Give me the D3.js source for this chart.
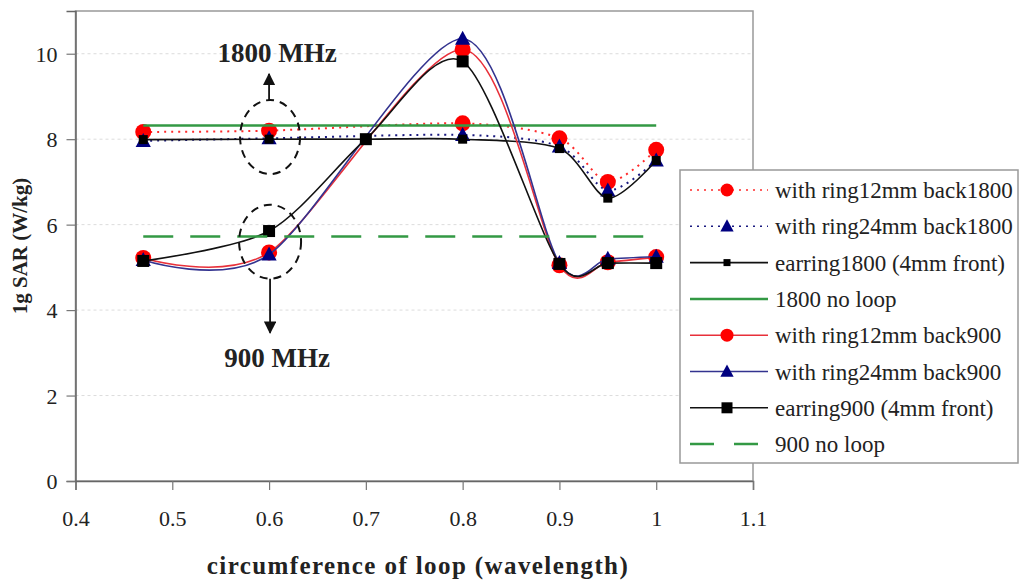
<!DOCTYPE html>
<html lang="en">
<head>
    <meta charset="UTF-8">
    <title>1g SAR vs loop circumference</title>
    <style>
        body {
            margin: 0;
            padding: 0;
            background: #ffffff;
            overflow: hidden;
        }
        svg text {
            fill: #222;
        }
    </style>
    <script src="https://d3js.org/d3.v7.min.js"></script>
</head>
<body>
    <div id="chart"></div>

    <script>
        // Data
        const xRing = [0.47, 0.6, 0.8, 0.9, 0.95, 1.0];
        const xEarring = [0.47, 0.6, 0.7, 0.8, 0.9, 0.95, 1.0];
        const xNoLoop = [0.47, 1.0];

        const ring12_1800 = [8.17, 8.2, 8.37, 8.02, 7.0, 7.75];
        const ring24_1800 = [7.96, 8.02, 8.1, 7.83, 6.8, 7.5];
        const earring1800 = [7.99, 8.0, 8.0, 8.0, 7.78, 6.62, 7.5];
        const noLoop1800 = [8.32, 8.32];
        const ring12_900 = [5.22, 5.35, 10.1, 5.05, 5.12, 5.24];
        const ring24_900 = [5.17, 5.3, 10.35, 5.1, 5.2, 5.25];
        const earring900 = [5.15, 5.85, 8.0, 9.82, 5.08, 5.1, 5.1];
        const noLoop900 = [5.72, 5.72];

        const xTicks = [0.4, 0.5, 0.6, 0.7, 0.8, 0.9, 1, 1.1];
        const yTicks = [0, 2, 4, 6, 8, 10];

        const seriesNames = [
            "with ring12mm back1800",
            "with ring24mm back1800",
            "earring1800 (4mm front)",
            "1800 no loop",
            "with ring12mm back900",
            "with ring24mm back900",
            "earring900 (4mm front)",
            "900 no loop"
        ];

        // annotation marks: [x value, y value]
        const circle1800 = [0.6, 8.05];
        const circle900 = [0.6, 5.6];

        const width = 1023;
        const height = 582;
        const plot = { left: 75.5, right: 753, top: 11, bottom: 481 };
        const serif = "'Liberation Serif', 'Times New Roman', Times, serif";

        const svg = d3.select("#chart")
            .append("svg")
            .attr("width", width)
            .attr("height", height)
            .attr("font-family", serif);

        const x = d3.scaleLinear().domain([0.4, 1.1]).range([plot.left, plot.right]);
        const y = d3.scaleLinear().domain([0, 11]).range([plot.bottom, plot.top]);

        // faint gridlines
        svg.append("g")
            .selectAll("line")
            .data(yTicks.filter(d => d > 0))
            .join("line")
            .attr("x1", plot.left)
            .attr("x2", plot.right)
            .attr("y1", d => y(d))
            .attr("y2", d => y(d))
            .attr("stroke", "#dcdcdc")
            .attr("stroke-dasharray", "3,3");

        // plot border
        svg.append("rect")
            .attr("x", plot.left)
            .attr("y", plot.top)
            .attr("width", plot.right - plot.left)
            .attr("height", plot.bottom - plot.top)
            .attr("fill", "none")
            .attr("stroke", "#999")
            .attr("stroke-width", 1.5);

        // axes
        const xAxis = svg.append("g")
            .attr("transform", `translate(0,${plot.bottom})`)
            .call(d3.axisBottom(x).tickValues(xTicks).tickSize(9).tickPadding(20)
                .tickFormat(d => d === 1 ? "1" : d3.format(".1f")(d)));
        const yAxis = svg.append("g")
            .attr("transform", `translate(${plot.left},0)`)
            .call(d3.axisLeft(y).tickValues(yTicks).tickSize(9).tickPadding(9));

        [xAxis, yAxis].forEach(a => {
            a.attr("font-family", serif).attr("font-size", 22);
            a.select(".domain").attr("stroke", "#666").attr("stroke-width", 1.5);
            a.selectAll(".tick line").attr("stroke", "#777").attr("stroke-width", 1.2);
            a.selectAll(".tick text").attr("fill", "#333");
        });
        yAxis.selectAll(".tick text").attr("dy", "0.35em");

        // axis titles
        svg.append("text")
            .attr("x", 418)
            .attr("y", 574)
            .attr("text-anchor", "middle")
            .style("font-size", "25px")
            .style("font-weight", "bold")
            .style("letter-spacing", "1.4px")
            .text("circumference of loop (wavelength)");

        svg.append("text")
            .attr("transform", `translate(27,246) rotate(-90)`)
            .attr("text-anchor", "middle")
            .style("font-size", "21px")
            .style("font-weight", "bold")
            .text("1g SAR (W/kg)");

        // series definitions
        const series = [
            { xs: xRing, ys: ring12_1800, color: "#ff2a2a", dash: "2,5", width: 2, marker: "circle", mcolor: "#ff0000", size: 8 },
            { xs: xRing, ys: ring24_1800, color: "#1a1a80", dash: "2,5", width: 2, marker: "triangle", mcolor: "#000080", size: 8 },
            { xs: xEarring, ys: earring1800, color: "#111", dash: null, width: 1.6, marker: "square", mcolor: "#000", size: 4.5 },
            { xs: xNoLoop, ys: noLoop1800, color: "#339944", dash: null, width: 2.5, marker: null },
            { xs: xRing, ys: ring12_900, color: "#e8303a", dash: null, width: 1.6, marker: "circle", mcolor: "#ff0000", size: 8 },
            { xs: xRing, ys: ring24_900, color: "#33338f", dash: null, width: 1.6, marker: "triangle", mcolor: "#000080", size: 8 },
            { xs: xEarring, ys: earring900, color: "#111", dash: null, width: 1.6, marker: "square", mcolor: "#000", size: 6 },
            { xs: xNoLoop, ys: noLoop900, color: "#339944", dash: "30,17", width: 2.5, marker: null }
        ];

        const line = d3.line()
            .x(d => x(d[0]))
            .y(d => y(d[1]))
            .curve(d3.curveCardinal.tension(0.15));

        function drawMarker(g, type, cx, cy, s, color) {
            if (type === "circle") {
                g.append("circle").attr("cx", cx).attr("cy", cy).attr("r", s).attr("fill", color);
            } else if (type === "triangle") {
                g.append("path")
                    .attr("d", `M${cx},${cy - s} L${cx + s * 0.95},${cy + s * 0.75} L${cx - s * 0.95},${cy + s * 0.75} Z`)
                    .attr("fill", color);
            } else if (type === "square") {
                g.append("rect").attr("x", cx - s).attr("y", cy - s)
                    .attr("width", 2 * s).attr("height", 2 * s).attr("fill", color);
            }
        }

        const dataLayer = svg.append("g");
        series.forEach(s => {
            const pts = s.xs.map((v, i) => [v, s.ys[i]]);
            const g = dataLayer.append("g");
            g.append("path")
                .attr("d", line(pts))
                .attr("fill", "none")
                .attr("stroke", s.color)
                .attr("stroke-width", s.width)
                .attr("stroke-dasharray", s.dash);
            if (s.marker) {
                pts.forEach(p => drawMarker(g, s.marker, x(p[0]), y(p[1]), s.size, s.mcolor));
            }
        });

        // annotations
        svg.append("defs").append("marker")
            .attr("id", "arrow")
            .attr("viewBox", "0 0 10 10")
            .attr("refX", 9).attr("refY", 5)
            .attr("markerWidth", 7).attr("markerHeight", 7)
            .attr("orient", "auto")
            .append("path")
            .attr("d", "M0,0 L10,5 L0,10 Z")
            .attr("fill", "#111");

        const ann = svg.append("g");
        [[circle1800, 30, 37], [circle900, 31, 37]].forEach(([c, rx, ry]) => {
            ann.append("ellipse")
                .attr("cx", x(c[0]) + 1)
                .attr("cy", y(c[1]))
                .attr("rx", rx)
                .attr("ry", ry)
                .attr("fill", "none")
                .attr("stroke", "#111")
                .attr("stroke-width", 2)
                .attr("stroke-dasharray", "8,6");
        });

        const top1800 = y(circle1800[1]) - 37;
        ann.append("line")
            .attr("x1", x(0.6)).attr("x2", x(0.6))
            .attr("y1", top1800).attr("y2", top1800 - 26)
            .attr("stroke", "#111").attr("stroke-width", 1.8)
            .attr("marker-end", "url(#arrow)");
        const bot900 = y(circle900[1]) + 37;
        ann.append("line")
            .attr("x1", x(0.6) + 1).attr("x2", x(0.6) + 1)
            .attr("y1", bot900).attr("y2", bot900 + 54)
            .attr("stroke", "#111").attr("stroke-width", 1.8)
            .attr("marker-end", "url(#arrow)");

        ann.append("text")
            .attr("x", x(0.6) + 8)
            .attr("y", top1800 - 38)
            .attr("text-anchor", "middle")
            .style("font-size", "27px")
            .style("font-weight", "bold")
            .text("1800 MHz");
        ann.append("text")
            .attr("x", x(0.6) + 8)
            .attr("y", bot900 + 88)
            .attr("text-anchor", "middle")
            .style("font-size", "27px")
            .style("font-weight", "bold")
            .text("900 MHz");

        // legend
        const legend = svg.append("g").attr("transform", "translate(680,170)");
        legend.append("rect")
            .attr("width", 338)
            .attr("height", 293)
            .attr("fill", "#fff")
            .attr("stroke", "#999")
            .attr("stroke-width", 1.5);

        const legendMarkerSize = [6.5, 7, 3.5, 0, 6.5, 7, 5.5, 0];
        series.forEach((s, i) => {
            const cy = 20 + i * 36.3;
            const row = legend.append("g");
            row.append("line")
                .attr("x1", 10).attr("x2", 88)
                .attr("y1", cy).attr("y2", cy)
                .attr("stroke", s.color)
                .attr("stroke-width", s.marker ? 1.6 : 2.5)
                .attr("stroke-dasharray", s.dash ? (s.marker ? "2,5" : "24,20") : null);
            if (s.marker) drawMarker(row, s.marker, 47, cy, legendMarkerSize[i], s.mcolor);
            row.append("text")
                .attr("x", 95)
                .attr("y", cy)
                .attr("dy", "0.35em")
                .style("font-size", "23px")
                .text(seriesNames[i]);
        });
    </script>
</body>
</html>
